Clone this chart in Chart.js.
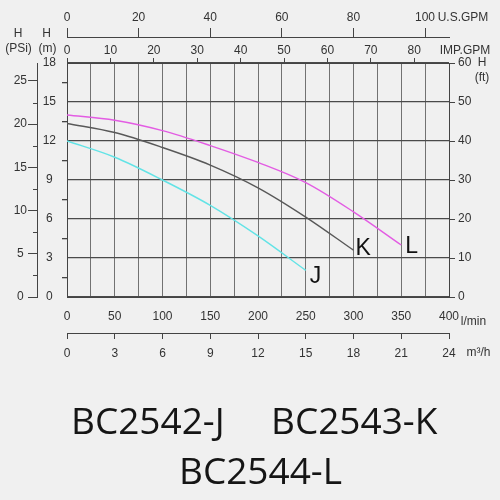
<!DOCTYPE html>
<html>
<head>
<meta charset="utf-8">
<script src="https://cdn.jsdelivr.net/npm/chart.js@4.4.0/dist/chart.umd.min.js"></script>
<style>
    html, body { margin: 0; padding: 0; background: #f0f0f0; }
    #wrap { position: relative; width: 500px; height: 500px; overflow: hidden; }
    #myChart { position: absolute; left: 0; top: 0; }
    .lbl { position: absolute; font-family: 'Liberation Sans', sans-serif; font-size: 12px; color: #333; transform: translate(-50%, -50%); white-space: nowrap; }
    .ttl { position: absolute; font-family: 'Open Sans', sans-serif; font-size: 37px; line-height: 37px; color: #151515; white-space: nowrap; }
</style>
</head>
<body>
<div id="wrap">
    <canvas id="myChart" width="500" height="500"></canvas>
    <div class="lbl" style="left:18px;top:33px">H</div>
    <div class="lbl" style="left:18.5px;top:48px">(PSi)</div>
    <div class="lbl" style="left:46.5px;top:33px">H</div>
    <div class="lbl" style="left:47.5px;top:48px">(m)</div>
    <div class="lbl" style="left:463px;top:17px">U.S.GPM</div>
    <div class="lbl" style="left:465px;top:50px">IMP.GPM</div>
    <div class="lbl" style="left:482px;top:62px">H</div>
    <div class="lbl" style="left:482px;top:77px">(ft)</div>
    <div class="lbl" style="left:473.5px;top:321px">l/min</div>
    <div class="lbl" style="left:478.5px;top:352px">m³/h</div>
    <div class="ttl" style="left:71px;top:401px">BC2542-J</div>
    <div class="ttl" style="left:271px;top:401px">BC2543-K</div>
    <div class="ttl" style="left:179px;top:451px">BC2544-L</div>
</div>
<script>
// расход, л/мин
let flowJ = [0, 50, 100, 150, 200, 250];
let flowK = [0, 50, 100, 150, 200, 250, 300];
let flowL = [0, 50, 100, 150, 200, 250, 300, 350];

// напор, м
let headJ = [12.0, 10.75, 9.0, 7.05, 4.7, 2.05];
let headK = [13.35, 12.65, 11.5, 10.15, 8.4, 6.15, 3.6];
let headL = [14.0, 13.6, 12.8, 11.65, 10.35, 8.8, 6.55, 4.0];

let curveNames = ['J', 'K', 'L'];
let curveColors = ['#62e3e6', '#585858', '#e35ce3'];

let axisFont = { family: "'Liberation Sans', sans-serif", size: 12 };
let textColor = '#333';
let lineColor = '#444';

function toPoints(xs, ys) {
    return xs.map(function(x, i) { return { x: x, y: ys[i] }; });
}

function fixSize(size) {
    return function(scale) {
        if (scale.isHorizontal()) scale.height = size; else scale.width = size;
        scale.paddingLeft = 0; scale.paddingRight = 0;
        scale.paddingTop = 0; scale.paddingBottom = 0;
    };
}

// короткие риски на шкале PSi
const minorTicks = {
    id: 'minorTicks',
    afterDraw(chart) {
        let ctx = chart.ctx;
        let psi = chart.scales.psi;
        ctx.save();
        ctx.strokeStyle = lineColor;
        ctx.lineWidth = 1;
        for (let v = 2.5; v < psi.max; v += 5) {
            let y = Math.round(psi.getPixelForValue(v)) + 0.5;
            ctx.beginPath();
            ctx.moveTo(psi.right - 4, y);
            ctx.lineTo(psi.right, y);
            ctx.stroke();
        }
        ctx.restore();
    }
};

// буквы у концов кривых
const curveLabels = {
    id: 'curveLabels',
    afterDatasetsDraw(chart) {
        let ctx = chart.ctx;
        let offsets = [[4, 13], [2, 5], [4, 8]];
        ctx.save();
        ctx.fillStyle = '#111';
        ctx.font = "23px 'Liberation Sans', sans-serif";
        ctx.textBaseline = 'alphabetic';
        chart.data.datasets.forEach(function(ds, i) {
            let meta = chart.getDatasetMeta(i);
            let last = meta.data[meta.data.length - 1];
            ctx.fillText(curveNames[i], last.x + offsets[i][0], last.y + offsets[i][1]);
        });
        ctx.restore();
    }
};

let ctx = document.getElementById('myChart').getContext('2d');
new Chart(ctx, {
    type: 'line',
    data: {
        datasets: [
            { label: 'J', data: toPoints(flowJ, headJ), borderColor: curveColors[0] },
            { label: 'K', data: toPoints(flowK, headK), borderColor: curveColors[1] },
            { label: 'L', data: toPoints(flowL, headL), borderColor: curveColors[2] }
        ]
    },
    options: {
        responsive: false,
        animation: false,
        layout: { padding: { left: 0, top: 0, right: 0, bottom: 135 } },
        elements: {
            point: { radius: 0 },
            line: { borderWidth: 1.4, cubicInterpolationMode: 'monotone' }
        },
        plugins: { legend: { display: false }, tooltip: { enabled: false } },
        scales: {
            x: {
                type: 'linear', position: 'bottom', weight: 0, min: 0, max: 400,
                afterFit: fixSize(36),
                border: { display: true, color: lineColor, width: 1 },
                grid: { color: '#727272', lineWidth: 1, drawTicks: false },
                ticks: {
                    stepSize: 25, padding: 12, autoSkip: false, font: axisFont, color: textColor, maxRotation: 0,
                    callback: function(v) { return v % 50 === 0 ? v : ''; }
                }
            },
            m3h: {
                type: 'linear', axis: 'x', position: 'bottom', weight: 1, min: 0, max: 24,
                afterFit: fixSize(32),
                border: { display: true, color: lineColor, width: 1 },
                grid: { drawOnChartArea: false, tickLength: 6, tickColor: lineColor },
                ticks: { stepSize: 3, padding: 7, autoSkip: false, font: axisFont, color: textColor, maxRotation: 0 }
            },
            impgpm: {
                type: 'linear', axis: 'x', position: 'top', weight: 0, min: 0, max: 88,
                afterFit: fixSize(26),
                border: { display: true, color: lineColor, width: 1 },
                grid: { drawOnChartArea: false, tickLength: 5, tickColor: lineColor },
                ticks: { stepSize: 10, padding: 0, autoSkip: false, includeBounds: false, font: axisFont, color: textColor, maxRotation: 0 }
            },
            usgpm: {
                type: 'linear', axis: 'x', position: 'top', weight: 1, min: 0, max: 106.7,
                afterFit: fixSize(37),
                border: { display: true, color: lineColor, width: 1 },
                grid: { drawOnChartArea: false, tickLength: 9, tickColor: lineColor },
                ticks: { stepSize: 20, padding: 3, autoSkip: false, includeBounds: false, font: axisFont, color: textColor, maxRotation: 0 }
            },
            y: {
                type: 'linear', position: 'left', weight: 0, min: 0, max: 18,
                afterFit: fixSize(30),
                border: { display: true, color: lineColor, width: 1 },
                grid: {
                    tickLength: 5,
                    lineWidth: 1.3,
                    color: function(c) { return c.tick && c.tick.value % 3 === 0 ? '#4a4a4a' : 'transparent'; },
                    tickColor: function(c) { return c.tick && c.tick.value % 3 === 0 ? 'transparent' : lineColor; }
                },
                ticks: {
                    stepSize: 1.5, padding: 6, autoSkip: false, crossAlign: 'center', font: axisFont, color: textColor,
                    callback: function(v) { return v % 3 === 0 ? v : ''; }
                }
            },
            psi: {
                type: 'linear', position: 'left', weight: 1, min: 0, max: 27.08,
                afterFit: fixSize(37),
                border: { display: true, color: lineColor, width: 1 },
                grid: { drawOnChartArea: false, tickLength: 9, tickColor: lineColor },
                ticks: { stepSize: 5, padding: 1, autoSkip: false, includeBounds: false, crossAlign: 'center', font: axisFont, color: textColor }
            },
            ft: {
                type: 'linear', position: 'right', min: 0, max: 60,
                afterFit: fixSize(51),
                border: { display: true, color: lineColor, width: 1 },
                grid: { drawOnChartArea: false, tickLength: 6, tickColor: lineColor },
                ticks: { stepSize: 10, padding: 3, autoSkip: false, font: axisFont, color: textColor }
            }
        }
    },
    plugins: [minorTicks, curveLabels]
});
</script>
</body>
</html>
